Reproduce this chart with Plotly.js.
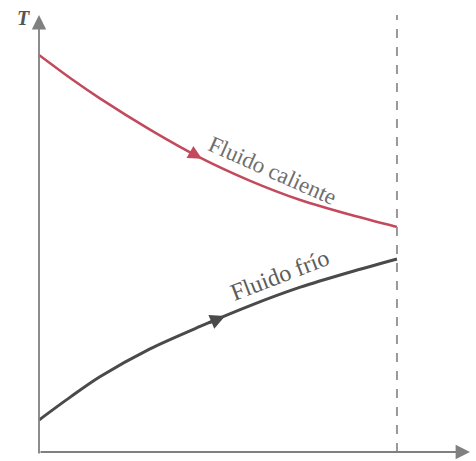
<!DOCTYPE html>
<html>
<head>
<meta charset="utf-8">
<script src="https://cdn.plot.ly/plotly-3.0.1.min.js"></script>
<style>html,body{margin:0;padding:0;background:#fff;}#chart{width:476px;height:461px;}</style>
</head>
<body>
<div id="chart"></div>
<script>
// Position along the exchanger (0 = inlet, 1 = outlet)
const position = [0, 0.09, 0.17, 0.31, 0.45, 0.59, 0.73, 0.87, 1];
// Temperature of the hot fluid (arbitrary units)
const hotFluid = [99.25, 93.3, 88.4, 80.6, 73.6, 67.8, 63, 59.3, 56.25];
// Temperature of the cold fluid (arbitrary units)
const coldFluid = [8, 13.9, 18.8, 25.8, 31.4, 36.6, 41.2, 45.0, 48.25];
const hotLabel = 'Fluido caliente';
const coldLabel = 'Fluido frío';
const yLabel = 'T';

const xMax = 1.204, yMax = 109.25;
const hotColor = '#c24a5c', coldColor = '#4a4a4a', axisColor = '#808080';

const traces = [
  {x: position, y: hotFluid, mode: 'lines', line: {color: hotColor, width: 2.5, shape: 'spline', smoothing: 0.8}, hoverinfo: 'skip'},
  {x: position, y: coldFluid, mode: 'lines', line: {color: coldColor, width: 3, shape: 'spline', smoothing: 0.8}, hoverinfo: 'skip'}
];

const serif = 'Liberation Serif, DejaVu Serif, serif';
const layout = {
  width: 476, height: 461,
  margin: {l: 39, r: 6, t: 15, b: 9, pad: 0},
  paper_bgcolor: '#fff', plot_bgcolor: '#fff',
  showlegend: false,
  xaxis: {range: [0, xMax], showgrid: false, zeroline: false, showticklabels: false, ticks: '', showline: false, fixedrange: true},
  yaxis: {range: [0, yMax], showgrid: false, zeroline: false, showticklabels: false, ticks: '', showline: false, fixedrange: true},
  shapes: [
    {type: 'line', xref: 'x', yref: 'paper', x0: 1, x1: 1, y0: 0, y1: 1, line: {color: '#999', width: 2, dash: 'dash'}}
  ],
  annotations: [
    // y axis with arrow
    {xref: 'x', yref: 'y', axref: 'x', ayref: 'y', x: 0, y: yMax, ax: 0, ay: -0.75, text: '', showarrow: true, arrowhead: 2, arrowsize: 1.6, arrowwidth: 1.8, arrowcolor: axisColor, standoff: 0},
    // x axis with arrow
    {xref: 'x', yref: 'y', axref: 'x', ayref: 'y', x: xMax, y: 0, ax: 0, ay: 0, text: '', showarrow: true, arrowhead: 2, arrowsize: 1.6, arrowwidth: 1.8, arrowcolor: axisColor, standoff: 0},
    // flow direction arrows on the curves
    {xref: 'x', yref: 'y', axref: 'x', ayref: 'y', x: 0.455, y: 73.3, ax: 0.42, ay: 75.1, text: '', showarrow: true, arrowhead: 2, arrowsize: 1.1, arrowwidth: 2.5, arrowcolor: hotColor, standoff: 0},
    {xref: 'x', yref: 'y', axref: 'x', ayref: 'y', x: 0.52, y: 34.0, ax: 0.47, ay: 32.1, text: '', showarrow: true, arrowhead: 2, arrowsize: 1.0, arrowwidth: 3, arrowcolor: coldColor, standoff: 0},
    // labels
    {xref: 'x', yref: 'y', x: 0.651, y: 70.5, text: hotLabel, showarrow: false, textangle: 24, font: {family: serif, size: 23, color: '#6e6e6e'}},
    {xref: 'x', yref: 'y', x: 0.673, y: 44.3, text: coldLabel, showarrow: false, textangle: -21, font: {family: serif, size: 24, color: '#5c5c5c'}},
    {xref: 'paper', yref: 'paper', x: 0, y: 0, xanchor: 'center', yanchor: 'middle', text: '<b><i>' + yLabel + '</i></b>', showarrow: false, font: {family: serif, size: 20, color: '#555'}}
  ]
};
// place T label just left of the top of the vertical axis (pixel 23, 18)
layout.annotations[6].x = (23 - 39) / (476 - 39 - 6);
layout.annotations[6].y = (452 - 18) / (461 - 15 - 9);

Plotly.newPlot('chart', traces, layout, {staticPlot: true, displayModeBar: false});
</script>
</body>
</html>
